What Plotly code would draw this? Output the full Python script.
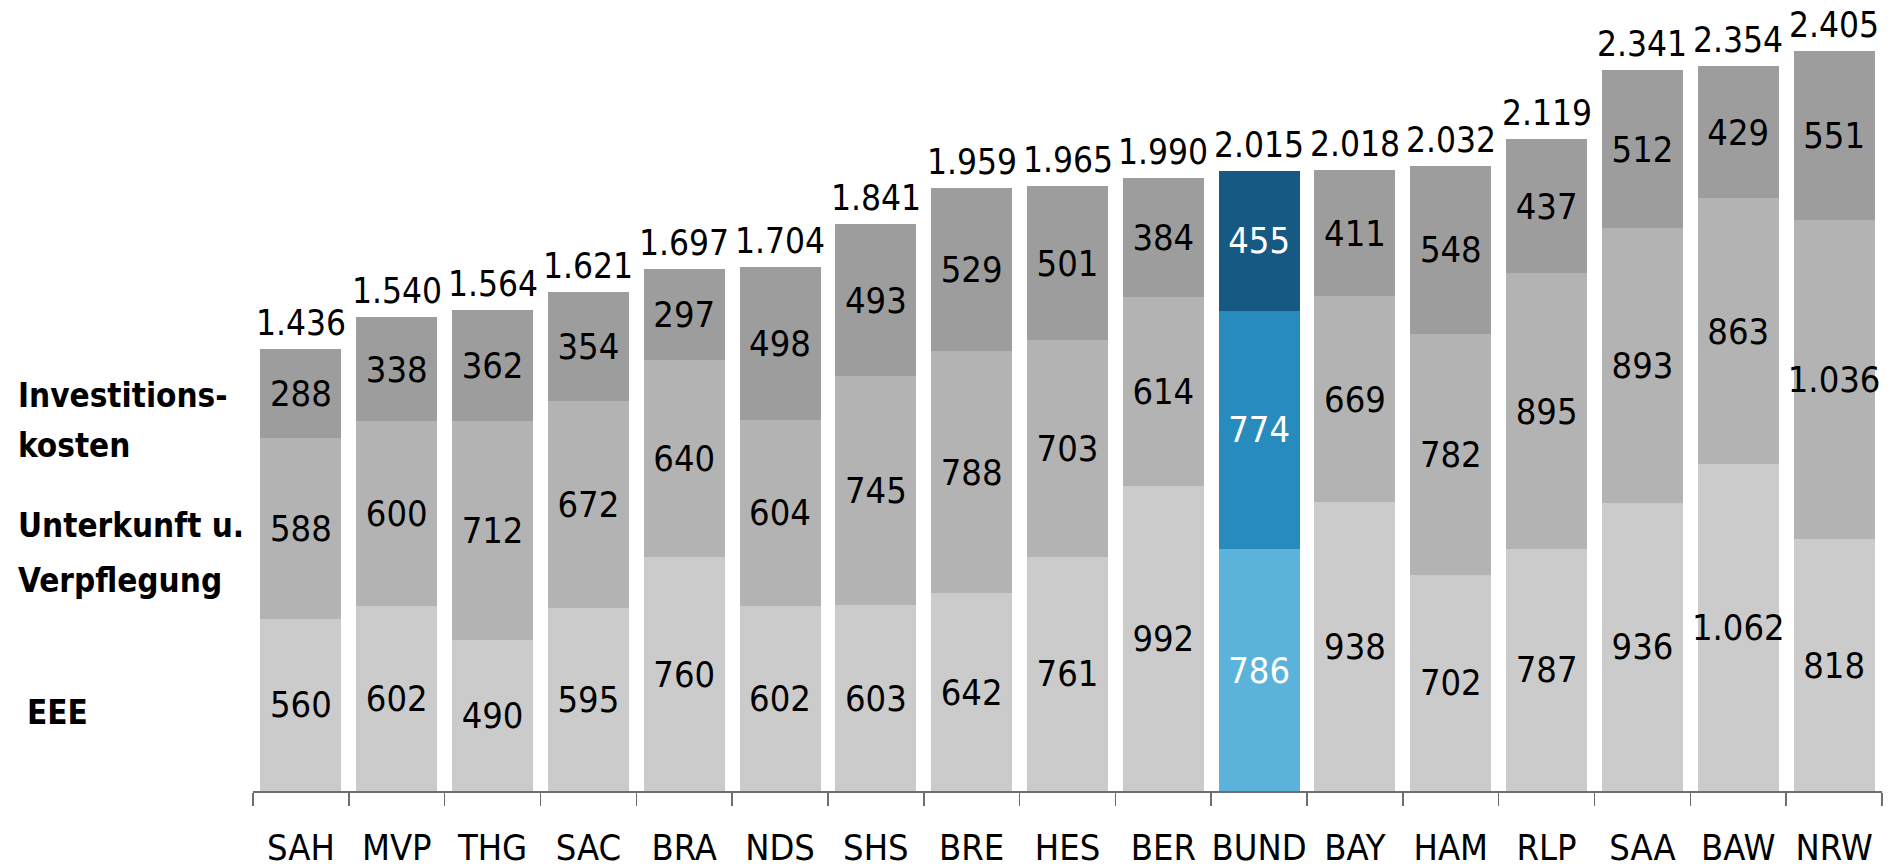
import plotly.graph_objects as go

categories = ["SAH", "MVP", "THG", "SAC", "BRA", "NDS", "SHS", "BRE", "HES", "BER",
              "BUND", "BAY", "HAM", "RLP", "SAA", "BAW", "NRW"]
eee = [560, 602, 490, 595, 760, 602, 603, 642, 761, 992, 786, 938, 702, 787, 936, 1062, 818]
unterkunft = [588, 600, 712, 672, 640, 604, 745, 788, 703, 614, 774, 669, 782, 895, 893, 863, 1036]
investition = [288, 338, 362, 354, 297, 498, 493, 529, 501, 384, 455, 411, 548, 437, 512, 429, 551]
totals = [1436, 1540, 1564, 1621, 1697, 1704, 1841, 1959, 1965, 1990, 2015, 2018, 2032, 2119, 2341, 2354, 2405]

highlight = "BUND"
FONT = "DejaVu Sans Condensed, sans-serif"
FS = 36


def de(v):
    return f"{v:,}".replace(",", ".")


def colors(grey, blue):
    return [blue if c == highlight else grey for c in categories]


def tcolors():
    return ["white" if c == highlight else "black" for c in categories]


fig = go.Figure()
for vals, grey, blue in [
    (eee, "#cbcbcb", "#5bb3dc"),
    (unterkunft, "#b3b3b3", "#288bbd"),
    (investition, "#9d9d9d", "#165a84"),
]:
    fig.add_trace(go.Bar(
        x=categories, y=vals,
        marker=dict(color=colors(grey, blue), line=dict(width=0)),
        text=[de(v) for v in vals],
        textposition="inside", insidetextanchor="middle",
        textfont=dict(size=FS, color=tcolors(), family=FONT),
        textangle=0, constraintext="none",
        hoverinfo="skip",
    ))

W, H = 1894, 867
L = 253
R = W - 1882
T = 10
B = H - 791
ph = H - T - B
pw = W - L - R


def py(Y):
    return (H - B - Y) / ph


def px(X):
    return (X - L) / pw


ann = []
for c, v in zip(categories, totals):
    ann.append(dict(text=de(v), x=c, y=v, xref="x", yref="y",
                    xanchor="center", yanchor="bottom", yshift=4,
                    showarrow=False, font=dict(size=35, color="black", family=FONT)))

for txt, X, Y in [("Investitions-", 16, 395), ("kosten", 16, 445),
                  ("Unterkunft u.", 16, 525), ("Verpflegung", 16, 580),
                  ("EEE", 25, 712)]:
    ann.append(dict(text=f"<b>{txt}</b>", xref="paper", yref="paper",
                    x=px(X), y=py(Y), xanchor="left", yanchor="middle",
                    showarrow=False, font=dict(size=33, color="black", family=FONT)))

fig.update_layout(
    width=W, height=H,
    margin=dict(l=L, r=R, t=T, b=B, pad=0, autoexpand=False),
    barmode="stack", bargap=0.155,
    plot_bgcolor="white", paper_bgcolor="white",
    showlegend=False,
    font=dict(family=FONT, size=FS, color="black"),
    annotations=ann,
)
fig.update_xaxes(
    type="category", range=[-0.5, len(categories) - 0.5],
    showline=True, linecolor="#6e6e6e", linewidth=1.5,
    ticks="outside", tickson="boundaries", ticklen=13, tickcolor="#6e6e6e", tickwidth=1.5,
    tickfont=dict(size=FS, family=FONT, color="black"), tickangle=0,
    ticklabelstandoff=24, showgrid=False, fixedrange=True, automargin=False,
)
fig.update_yaxes(range=[0, ph / 0.3078], visible=False, showgrid=False, fixedrange=True)

fig.write_html("out.html",
               config={"displayModeBar": False, "staticPlot": True},
               post_script="document.body.style.margin='0';document.body.style.overflow='hidden';")
